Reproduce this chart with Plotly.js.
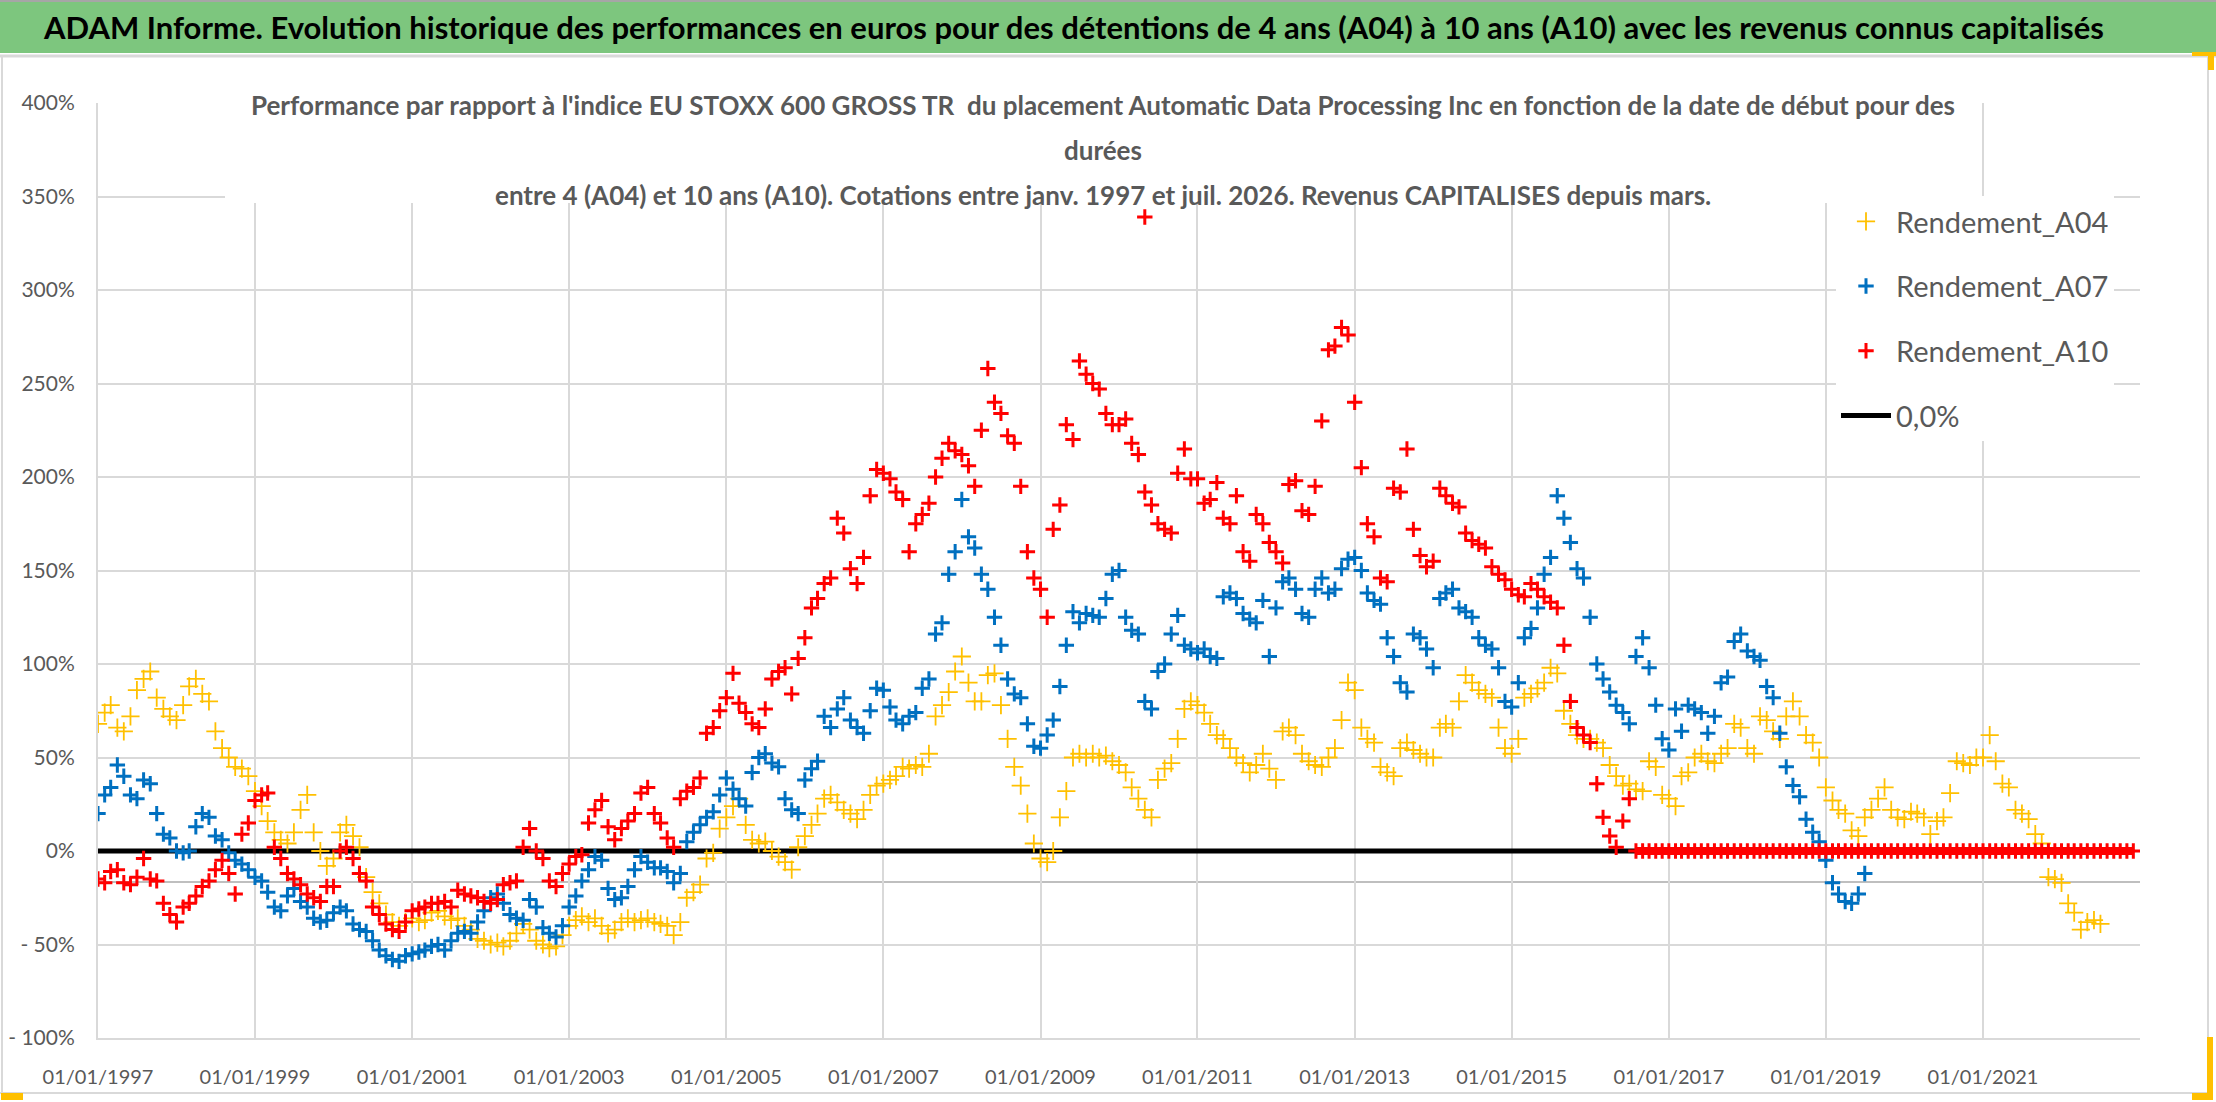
<!DOCTYPE html>
<html lang="fr">
<head>
<meta charset="utf-8">
<title>ADAM Informe - Automatic Data Processing Inc</title>
<script src="https://cdn.plot.ly/plotly-3.0.1.min.js"></script>
<style>
  html, body { margin: 0; padding: 0; background: #ffffff; }
  #chart { width: 2216px; height: 1102px; }
</style>
</head>
<body>
<div id="chart"></div>
<script>
// Performances relatives ADP vs EU STOXX 600 GROSS TR (en %), un point par mois

// Rendement_A04 : 1997-01 -> 2022-07
const A04 = [
  68, 74, 78, 66, 64, 72, 86, 92, 96, 82, 76, 72,            // 1997
  70, 78, 88, 92, 84, 80, 64, 55, 50, 45, 44, 40,            // 1998
  32, 24, 16, 10, 6, 4, 10, 22, 30, 10, 0, -8,               // 1999
  -4, 10, 14, 8, 2, -14, -22, -28, -34, -38, -40, -38,       // 2000
  -36, -38, -37, -33, -32, -35, -37, -36, -40, -42, -47, -48, // 2001
  -50, -49, -51, -48, -44, -39, -42, -48, -50, -52, -51, -45, // 2002
  -40, -37, -35, -38, -36, -40, -44, -42, -38, -36, -38, -37, // 2003
  -36, -38, -39, -40, -45, -38, -25, -22, -18, -4, -1, 12,   // 2004
  18, 24, 28, 14, 6, 4, 5, 0, -3, -6, -10, 2,                // 2005
  8, 14, 20, 28, 30, 26, 22, 20, 17, 22, 30, 35,             // 2006
  36, 38, 40, 45, 44, 46, 45, 52, 72, 78, 85, 96,            // 2007
  104, 90, 80, 80, 94, 95, 78, 60, 45, 35, 20, 4,            // 2008
  -4, -6, 0, 18, 32, 50, 52, 50, 52, 50, 51, 48,             // 2009
  46, 42, 34, 28, 22, 18, 38, 44, 47, 60, 76, 80,            // 2010
  78, 74, 68, 62, 60, 55, 50, 47, 42, 46, 52, 44,            // 2011
  38, 64, 66, 62, 52, 48, 46, 45, 50, 55, 70, 90,            // 2012
  86, 66, 60, 58, 45, 42, 40, 55, 58, 54, 52, 50,            // 2013
  50, 66, 68, 66, 80, 94, 90, 86, 84, 82, 66, 55,            // 2014
  52, 60, 82, 84, 87, 90, 98, 95, 75, 68, 62, 60,            // 2015
  60, 58, 55, 46, 40, 35, 36, 33, 32, 48, 45, 30,            // 2016
  28, 24, 40, 42, 50, 52, 48, 47, 52, 55, 68, 66,            // 2017
  55, 52, 72, 70, 64, 60, 72, 80, 72, 62, 58, 50,            // 2018
  34, 27, 22, 20, 11, 8, 18, 22, 28, 34, 22, 18,             // 2019
  17, 21, 20, 18, 9, 16, 18, 31, 48, 47, 46, 50,             // 2020
  50, 62, 48, 36, 34, 22, 20, 17, 9, 4, -14, -15,            // 2021
  -17, -28, -33, -42, -38, -37, -39                          // 2022
];

// Rendement_A07 : 1997-01 -> 2019-07
const A07 = [
  20, 30, 34, 46, 40, 30, 28, 38, 36, 20, 9, 7,              // 1997
  0, -1, 0, 13, 20, 18, 8, 6, -1, -5, -7, -10,               // 1998
  -14, -16, -22, -30, -32, -24, -20, -27, -30, -36, -38, -37, // 1999
  -33, -30, -32, -39, -42, -43, -48, -53, -56, -58, -59, -56, // 2000
  -55, -54, -53, -51, -50, -53, -48, -44, -43, -44, -38, -32, // 2001
  -25, -23, -28, -34, -36, -37, -26, -30, -41, -44, -46, -40, // 2002
  -30, -24, -16, -10, -3, -5, -20, -26, -25, -19, -10, -3,   // 2003
  -6, -9, -9, -11, -17, -12, 5, 10, 14, 18, 21, 30,          // 2004
  39, 33, 28, 24, 42, 50, 52, 47, 45, 28, 22, 20,            // 2005
  38, 44, 48, 72, 66, 76, 82, 70, 66, 63, 75, 87,            // 2006
  86, 77, 70, 68, 72, 74, 87, 92, 116, 122, 148, 160,        // 2007
  188, 168, 162, 148, 140, 125, 110, 92, 84, 82, 68, 56,     // 2008
  55, 62, 70, 88, 110, 128, 122, 127, 126, 125, 135, 148,    // 2009
  150, 125, 118, 116, 80, 76, 96, 100, 116, 126, 110, 108,   // 2010
  106, 108, 104, 103, 136, 138, 135, 127, 124, 122, 134, 104, // 2011
  130, 144, 146, 140, 127, 125, 140, 146, 138, 140, 151, 156, // 2012
  157, 150, 138, 134, 132, 114, 104, 90, 85, 116, 114, 108,  // 2013
  98, 135, 138, 140, 130, 128, 125, 114, 110, 108, 98, 80,   // 2014
  77, 90, 114, 119, 130, 148, 157, 190, 178, 165, 151, 146,  // 2015
  125, 100, 92, 85, 78, 74, 68, 104, 114, 98, 78, 60,        // 2016
  54, 76, 64, 78, 76, 74, 63, 72, 90, 93, 112, 116,          // 2017
  107, 104, 102, 88, 82, 63, 45, 35, 29, 17, 10, 5,          // 2018
  -5, -17, -23, -27, -28, -23, -12                           // 2019
];

// Rendement_A10 : 1997-01 -> 2016-07
const A10 = [
  -15, -17, -11, -10, -17, -18, -14, -4, -15, -16, -28, -34, // 1997
  -38, -30, -28, -24, -19, -16, -10, -5, -12, -23, 9, 15,    // 1998
  27, 30, 31, 2, -4, -12, -15, -18, -23, -25, -27, -19,      // 1999
  -19, 0, 2, -4, -12, -16, -30, -34, -39, -42, -43, -38,     // 2000
  -32, -31, -30, -28, -28, -27, -30, -21, -23, -24, -25, -27, // 2001
  -28, -26, -18, -17, -16, 2, 12, 0, -4, -16, -19, -12,      // 2002
  -7, -3, -2, 15, 22, 27, 13, 6, 12, 16, 20, 31,             // 2003
  34, 20, 15, 7, 2, 28, 32, 34, 39, 63, 66, 75,              // 2004
  82, 95, 79, 74, 68, 66, 76, 92, 96, 98, 84, 103,           // 2005
  114, 130, 135, 143, 146, 178, 170, 151, 143, 157, 190, 204, // 2006
  202, 199, 192, 188, 160, 175, 180, 186, 200, 210, 218, 214, // 2007
  212, 206, 195, 225, 258, 240, 234, 222, 218, 195, 160, 146, // 2008
  140, 125, 172, 185, 228, 220, 262, 255, 250, 247, 234, 228, // 2009
  228, 231, 218, 212, 192, 185, 175, 172, 170, 202, 215, 199, // 2010
  199, 186, 188, 197, 178, 175, 190, 160, 155, 180, 175, 165, // 2011
  160, 154, 196, 198, 182, 180, 195, 230, 268, 270, 280, 276, // 2012
  240, 205, 175, 168, 146, 144, 194, 192, 215, 172, 158, 152, // 2013
  155, 194, 190, 186, 184, 170, 166, 164, 162, 152, 148, 145, // 2014
  140, 137, 136, 143, 140, 136, 133, 130, 110, 80, 66, 62,   // 2015
  58, 36, 18, 8, 2, 16, 28                                   // 2016
];

// Rendement_A10 après la fin des cotations sur 10 ans : 2016-08 -> 2022-12, tout à 0
const A10_FIN = [
  0, 0, 0, 0, 0,                                             // 2016
  0, 0, 0, 0, 0, 0, 0, 0, 0, 0, 0, 0,                        // 2017
  0, 0, 0, 0, 0, 0, 0, 0, 0, 0, 0, 0,                        // 2018
  0, 0, 0, 0, 0, 0, 0, 0, 0, 0, 0, 0,                        // 2019
  0, 0, 0, 0, 0, 0, 0, 0, 0, 0, 0, 0,                        // 2020
  0, 0, 0, 0, 0, 0, 0, 0, 0, 0, 0, 0,                        // 2021
  0, 0, 0, 0, 0, 0, 0, 0, 0, 0, 0, 0                         // 2022
];

// point isolé du A10
const A10_PIC_DATES = ['2010-05-01'];
const A10_PIC_VALUES = [339];

// série 0,0%
const ZERO_DATES = ['1997-01-01', '2016-08-01'];
const ZERO_VALUES = [0, 0];

const X_TICK_DATES = ['1997-01-01', '1999-01-01', '2001-01-01', '2003-01-01', '2005-01-01',
  '2007-01-01', '2009-01-01', '2011-01-01', '2013-01-01', '2015-01-01', '2017-01-01',
  '2019-01-01', '2021-01-01'];
const X_TICK_LABELS = ['01/01/1997', '01/01/1999', '01/01/2001', '01/01/2003', '01/01/2005',
  '01/01/2007', '01/01/2009', '01/01/2011', '01/01/2013', '01/01/2015', '01/01/2017',
  '01/01/2019', '01/01/2021'];
const Y_TICK_VALUES = [-100, -50, 0, 50, 100, 150, 200, 250, 300, 350, 400];
const Y_TICK_LABELS = ['- 100%', '- 50%', '0%', '50%', '100%', '150%', '200%', '250%', '300%', '350%', '400%'];
const AXIS_CROSS = -16.6;  // ligne de l'axe horizontal

const BANNER = 'ADAM Informe. Evolution historique des performances en euros pour des détentions de 4 ans (A04) à 10 ans (A10) avec les revenus connus capitalisés';
const TITLE_LINES = [
  "Performance par rapport à l'indice EU STOXX 600 GROSS TR  du placement Automatic Data Processing Inc en fonction de la date de début pour des",
  'durées',
  'entre 4 (A04) et 10 ans (A10). Cotations entre janv. 1997 et juil. 2026. Revenus CAPITALISES depuis mars.',
];

const FONT = 'Lato, "Open Sans", sans-serif';
const GREY = '#595959';
const GRID = '#d9d9d9';

// dates mensuelles
function monthDates(year, month, n) {
  const out = [];
  for (let i = 0; i < n; i++) {
    const y = year + Math.floor((month - 1 + i) / 12);
    const m = ((month - 1 + i) % 12) + 1;
    out.push(`${y}-${String(m).padStart(2, '0')}-01`);
  }
  return out;
}

// pixels de la page -> coordonnées paper
const PLOT_L = 98, PLOT_R = 2140, PLOT_T = 103, PLOT_B = 1038;
const px = x => (x - PLOT_L) / (PLOT_R - PLOT_L);
const py = y => (PLOT_B - y) / (PLOT_B - PLOT_T);

function rect(x0, y0, x1, y1, color) {
  return {
    type: 'rect', xref: 'paper', yref: 'paper', layer: 'above',
    x0: px(x0), x1: px(x1), y0: py(y1), y1: py(y0),
    fillcolor: color, line: { width: 0 },
  };
}

function hline(x0, x1, y, color, width) {
  return {
    type: 'line', xref: 'paper', yref: 'paper', layer: 'above',
    x0: px(x0), x1: px(x1), y0: py(y), y1: py(y),
    line: { color: color, width: width },
  };
}

function vline(x, y0, y1, color, width) {
  return {
    type: 'line', xref: 'paper', yref: 'paper', layer: 'above',
    x0: px(x), x1: px(x), y0: py(y0), y1: py(y1),
    line: { color: color, width: width },
  };
}

const RED_MARKER = { symbol: 'cross-thin', size: 11, color: '#ff0000', line: { color: '#ff0000', width: 3 } };

function draw() {
  const zero = {
    x: ZERO_DATES, y: ZERO_VALUES,
    type: 'scatter', mode: 'lines', name: '0,0%',
    legendgroup: 'zero', legendrank: 4,
    line: { color: '#000000', width: 5 },
  };
  const a04 = {
    x: monthDates(1997, 1, A04.length), y: A04,
    type: 'scatter', mode: 'markers', name: 'Rendement_A04',
    legendgroup: 'a04', legendrank: 1,
    marker: { symbol: 'cross-thin', size: 13, color: '#ffc000', line: { color: '#ffc000', width: 1.8 } },
  };
  const a07 = {
    x: monthDates(1997, 1, A07.length), y: A07,
    type: 'scatter', mode: 'markers', name: 'Rendement_A07',
    legendgroup: 'a07', legendrank: 2,
    marker: { symbol: 'cross-thin', size: 11, color: '#0070c0', line: { color: '#0070c0', width: 3 } },
  };
  const a10 = {
    x: monthDates(1997, 1, A10.length), y: A10,
    type: 'scatter', mode: 'markers', name: 'Rendement_A10',
    legendgroup: 'a10', legendrank: 3,
    marker: RED_MARKER,
  };
  // les valeurs nulles sont quotidiennes dans l'original : bande rouge continue
  const a10fin = {
    x: monthDates(2016, 8, A10_FIN.length), y: A10_FIN,
    type: 'scatter', mode: 'lines+markers', name: 'Rendement_A10',
    legendgroup: 'a10', showlegend: false,
    line: { color: '#ff0000', width: 8 },
    marker: RED_MARKER,
  };
  const a10pic = {
    x: A10_PIC_DATES, y: A10_PIC_VALUES,
    type: 'scatter', mode: 'markers', name: 'Rendement_A10',
    legendgroup: 'a10', showlegend: false,
    marker: RED_MARKER,
  };

  const shapes = [
    // cadre du graphique
    hline(0, 2216, 1, '#a6a6a6', 2),
    rect(0, 2, 2216, 53, '#7dc67e'),
    hline(0, 2216, 56, '#d9d9d9', 3),
    vline(2, 56, 1094, '#d9d9d9', 2),
    vline(2208, 56, 1094, '#d9d9d9', 2),
    hline(0, 2208, 1093, '#d9d9d9', 2),
    // fond blanc du titre
    rect(225, 84, 1982, 203, '#ffffff'),
    // ligne de l'axe horizontal
    {
      type: 'line', xref: 'paper', yref: 'y', layer: 'below',
      x0: 0, x1: 1, y0: AXIS_CROSS, y1: AXIS_CROSS,
      line: { color: '#bfbfbf', width: 2 },
    },
    // poignées de sélection jaunes
    rect(1, 1093, 23, 1100, '#ffc000'),
    rect(2192, 52, 2216, 56, '#ffc000'),
    rect(2208, 52, 2214, 70, '#ffc000'),
    rect(2207, 1037, 2213, 1100, '#ffc000'),
    rect(2192, 1093, 2213, 1100, '#ffc000'),
  ];

  const annotations = [
    {
      xref: 'paper', yref: 'paper', x: px(1073), y: py(27),
      xanchor: 'center', yanchor: 'middle', showarrow: false,
      text: `<b>${BANNER}</b>`,
      font: { family: FONT, size: 31, color: '#000000' },
    },
  ];
  const titleY = [105, 150, 195];
  TITLE_LINES.forEach((t, i) => annotations.push({
    xref: 'paper', yref: 'paper', x: px(1103), y: py(titleY[i]),
    xanchor: 'center', yanchor: 'middle', showarrow: false,
    text: `<b>${t}</b>`,
    font: { family: FONT, size: 26, color: GREY },
  }));

  const layout = {
    width: 2216, height: 1102,
    paper_bgcolor: '#ffffff', plot_bgcolor: '#ffffff',
    font: { family: FONT, color: GREY },
    margin: { l: PLOT_L, r: 2216 - PLOT_R, t: PLOT_T, b: 1102 - PLOT_B, pad: 0 },
    showlegend: true,
    legend: {
      x: px(1836), y: py(196), xanchor: 'left', yanchor: 'top',
      bgcolor: '#ffffff', borderwidth: 0,
      font: { family: FONT, size: 29, color: GREY },
      tracegroupgap: 24, itemwidth: 50,
    },
    xaxis: {
      type: 'date',
      range: ['1997-01-01', '2023-01-01'],
      tickmode: 'array', tickvals: X_TICK_DATES, ticktext: X_TICK_LABELS,
      showgrid: true, gridcolor: GRID, gridwidth: 2,
      showline: true, linecolor: GRID, linewidth: 2,
      zeroline: false, ticks: '', ticklabelstandoff: 20,
      tickfont: { family: FONT, size: 20, color: GREY },
      fixedrange: true,
    },
    yaxis: {
      range: [-100, 400],
      tickmode: 'array', tickvals: Y_TICK_VALUES, ticktext: Y_TICK_LABELS,
      showgrid: true, gridcolor: GRID, gridwidth: 2,
      showline: true, linecolor: GRID, linewidth: 2,
      zeroline: false, ticks: '', ticklabelstandoff: 17,
      tickfont: { family: FONT, size: 21, color: GREY },
      fixedrange: true,
    },
    shapes: shapes,
    annotations: annotations,
  };

  Plotly.newPlot('chart', [zero, a04, a07, a10, a10fin, a10pic], layout, { displayModeBar: false, staticPlot: true });
}

document.addEventListener('DOMContentLoaded', draw);
</script>
</body>
</html>
